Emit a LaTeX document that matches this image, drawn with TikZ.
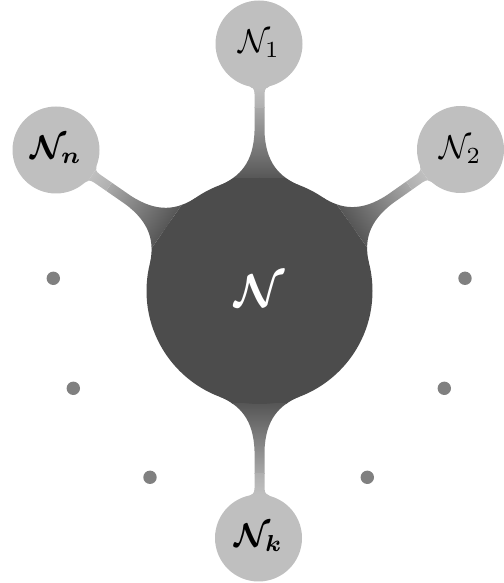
\documentclass[tikz,border=0pt]{standalone}
\usepackage{graphicx}
\definecolor{maindark}{gray}{0.30}
\definecolor{smalllight}{gray}{0.75}
\definecolor{neckdark}{gray}{0.34}
\definecolor{neckmid}{gray}{0.66}
\definecolor{neckmid2}{gray}{0.69}
\definecolor{dotgray}{gray}{0.50}
\tikzset{
  mainc/.style={circle, fill=maindark, minimum size=226pt, inner sep=0pt},
  smallc/.style={circle, fill=smalllight, minimum size=87pt, inner sep=0pt},
  dotc/.style={circle, fill=dotgray, minimum size=13.4pt, inner sep=0pt},
}
\newcommand\necknode[2]{%
  \begin{scope}[transform canvas={shift={(259.5pt,292pt)},rotate=#1}]
    \begin{scope}
      \clip (40,105.6) .. controls (20,114) and (6,128) .. (5,160)
        -- (5,#2-50) .. controls (5,#2-45) and (7,#2-43) .. (10,#2-42.3)
        -- (10,#2-20) -- (-10,#2-20) -- (-10,#2-42.3)
        .. controls (-7,#2-43) and (-5,#2-45) .. (-5,#2-50)
        -- (-5,160) .. controls (-6,128) and (-20,114) .. (-40,105.6)
        -- (0,60) -- cycle;
      \fill[maindark] (-60,50) rectangle (60,113);
      \shade[bottom color=neckdark, top color=neckmid] (-60,113) rectangle (60,183);
      \shade[bottom color=neckmid2, top color=smalllight] (-60,183) rectangle (60,#2-44);
      \fill[smalllight] (-60,#2-44) rectangle (60,#2);
    \end{scope}
  \end{scope}}
\begin{document}
\begin{tikzpicture}[x=1pt,y=1pt]
\useasboundingbox (0,0) rectangle (503,583);
\necknode{0}{247}
\necknode{-54.85}{245.8}
\necknode{55.3}{247.6}
\necknode{180}{247}
\node[mainc] (m) at (259.5,292) {\scalebox{4.6}{\color{white}\boldmath$\mathcal{N}$}};
\node[smallc] (n1) at (259,539) {\scalebox{3.3}{$\mathcal{N}_1$}};
\node[smallc] (n2) at (460.5,433.5) {\scalebox{3.3}{$\mathcal{N}_2$}};
\node[smallc] (nn) at (56,433) {\scalebox{3.3}{\boldmath$\mathcal{N}_n$}};
\node[smallc] (nk) at (258.5,45) {\scalebox{3.3}{\boldmath$\mathcal{N}_k$}};
\node[dotc] (d1) at (53.3,304.7) {};
\node[dotc] (d2) at (73.3,194.7) {};
\node[dotc] (d3) at (150,105.7) {};
\node[dotc] (d4) at (367.3,105.7) {};
\node[dotc] (d5) at (444.3,194.7) {};
\node[dotc] (d6) at (465,304.7) {};
\end{tikzpicture}
\end{document}
